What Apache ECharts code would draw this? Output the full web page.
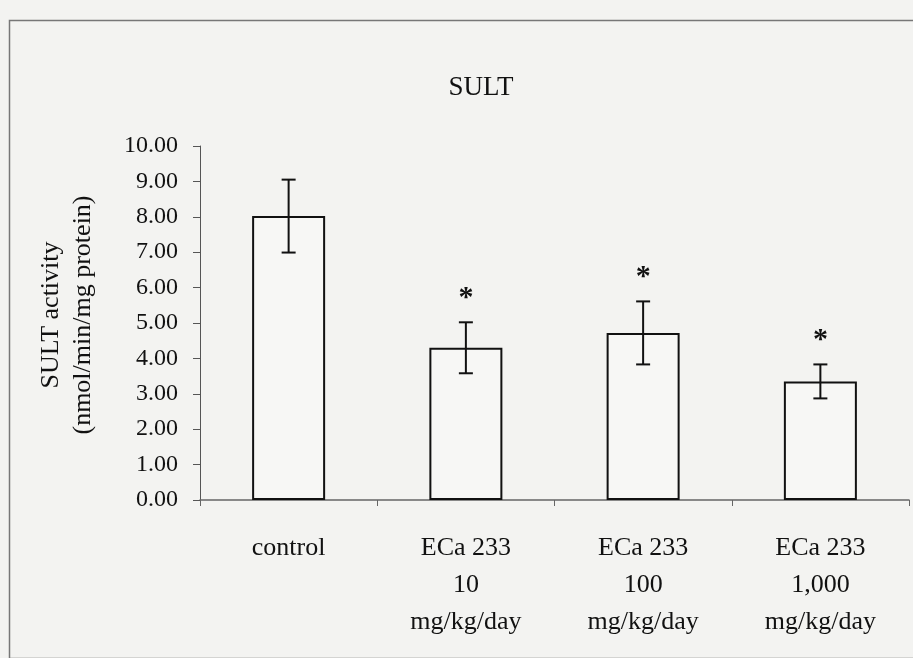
<!DOCTYPE html>
<html>
<head>
<meta charset="utf-8">
<script src="https://cdn.jsdelivr.net/npm/echarts@6/dist/echarts.min.js"></script>
<style>
html,body{margin:0;padding:0;background:#f3f3f1;}
#chart{width:913px;height:658px;}
</style>
</head>
<body>
<div id="chart"></div>
<script>
var categories = ['control', 'ECa 233\n10\nmg/kg/day', 'ECa 233\n100\nmg/kg/day', 'ECa 233\n1,000\nmg/kg/day'];
var means = [8.02, 4.30, 4.72, 3.35];
var errors = [1.03, 0.72, 0.89, 0.48];
var sigMarks = ['', '*', '*', '*'];
var yTicks = [0, 10, 1];

var chart = echarts.init(document.getElementById('chart'));
var serif = 'Liberation Serif';

var errData = means.map(function (m, i) { return [i, m - errors[i], m + errors[i], sigMarks[i]]; });

chart.setOption({
  backgroundColor: '#f3f3f1',
  animation: false,
  title: {
    text: 'SULT', left: 476, top: 69, textAlign: 'center',
    textStyle: { fontFamily: serif, fontWeight: 'normal', fontSize: 27, color: '#111' }
  },
  graphic: [{
    type: 'rect', left: 7, top: 18, silent: true,
    shape: { width: 930, height: 638 },
    style: { fill: 'none', stroke: '#777', lineWidth: 1.5 }
  }],
  grid: { left: 200, right: 4, top: 146, bottom: 158 },
  xAxis: {
    type: 'category', data: categories,
    axisLine: { lineStyle: { color: '#666', width: 1.5 } },
    axisTick: { show: true, length: 6, lineStyle: { color: '#666' } },
    axisLabel: { fontFamily: serif, fontSize: 26, color: '#111', lineHeight: 37, margin: 30, verticalAlign: 'top', interval: 0 }
  },
  yAxis: {
    type: 'value', min: yTicks[0], max: yTicks[1], interval: yTicks[2],
    name: 'SULT activity\n(nmol/min/mg protein)',
    nameLocation: 'middle', nameRotate: 90, nameGap: 101,
    nameTextStyle: { fontFamily: serif, fontSize: 26, color: '#111', lineHeight: 32, padding: [0, 0, 0, 16] },
    splitLine: { show: false },
    axisLine: { show: true, lineStyle: { color: '#555', width: 1 } },
    axisTick: { show: true, length: 7, lineStyle: { color: '#555' } },
    axisLabel: { fontFamily: serif, fontSize: 24, color: '#111', margin: 22,
      formatter: function (v) { return v.toFixed(2); } }
  },
  series: [{
    type: 'bar', data: means, barWidth: 73,
    itemStyle: { color: '#f7f7f5', borderColor: '#111', borderWidth: 2 }
  }, {
    type: 'custom', data: errData,
    renderItem: function (params, api) {
      var x = api.value(0);
      var lo = api.coord([x, api.value(1)]);
      var hi = api.coord([x, api.value(2)]);
      var cw = 7;
      var st = { stroke: '#111', lineWidth: 2 };
      var children = [
        { type: 'line', shape: { x1: lo[0], y1: lo[1], x2: hi[0], y2: hi[1] }, style: st },
        { type: 'line', shape: { x1: lo[0] - cw, y1: lo[1], x2: lo[0] + cw, y2: lo[1] }, style: st },
        { type: 'line', shape: { x1: hi[0] - cw, y1: hi[1], x2: hi[0] + cw, y2: hi[1] }, style: st }
      ];
      var mark = sigMarks[params.dataIndex];
      if (mark) {
        children.push({ type: 'text', style: { text: mark, x: hi[0], y: hi[1] - 24, align: 'center', verticalAlign: 'middle',
          font: 'bold 30px Liberation Serif', fill: '#111' } });
      }
      return { type: 'group', children: children };
    },
    z: 5
  }]
});
</script>
</body>
</html>
